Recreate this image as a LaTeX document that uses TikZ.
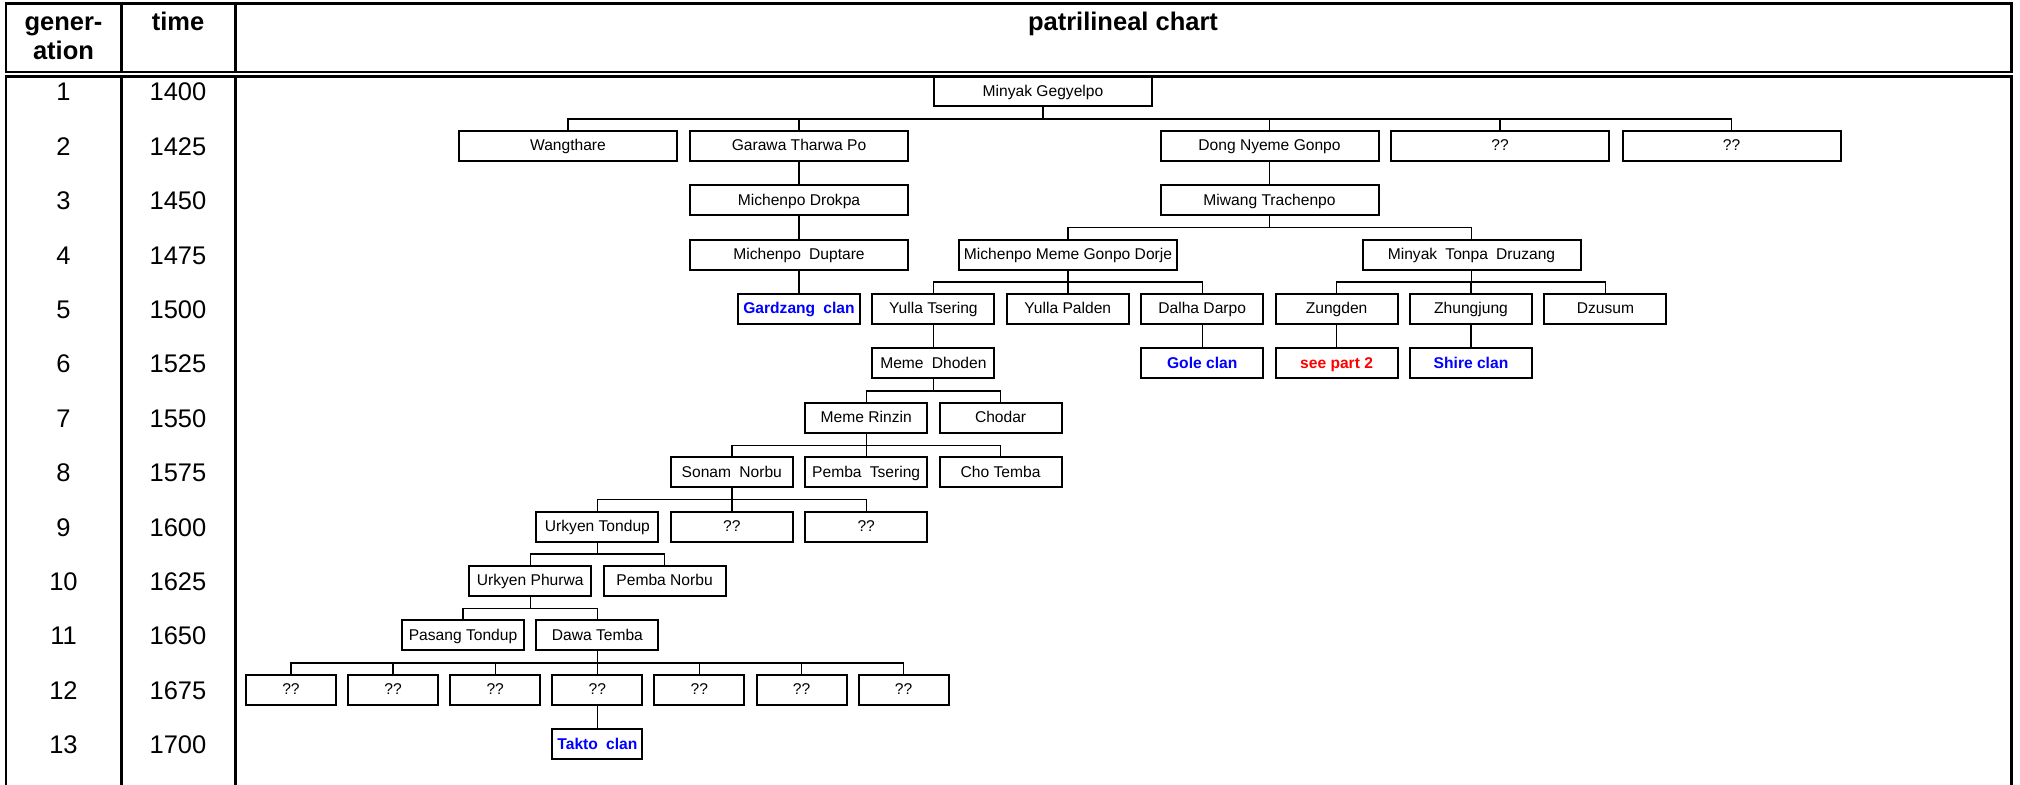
\documentclass[tikz,border=0pt]{standalone}
\usepackage{fontspec}
\setmainfont{Liberation Sans}
\definecolor{clanblue}{RGB}{0,0,255}
\definecolor{partred}{RGB}{255,0,0}
\begin{document}
\begin{tikzpicture}[x=0.5pt,y=-0.5pt,
  every node/.style={inner sep=0pt, outer sep=0pt},
  tbl/.style={line width=1.35pt},
  hdr/.style={font=\fontsize{12.75}{15}\selectfont\bfseries, anchor=base},
  cell/.style={font=\fontsize{12.75}{15}\selectfont, anchor=base},
  box/.style={draw, line width=1pt, minimum height=15pt, text height=6.2pt, text depth=1.4pt,
    font=\fontsize{7.8}{9}\selectfont, text=black},
  wide/.style={box, minimum width=109pt},
  mid/.style={box, minimum width=61pt},
  small/.style={box, minimum width=45pt},
  clan/.style={font=\fontsize{7.8}{9}\selectfont\bfseries, text=clanblue},
  conn/.style={line width=0.7pt},
]
\useasboundingbox (0,0) rectangle (2020,785);
\clip (0,0) rectangle (2020,785);

% table frame
\draw[tbl] (6,3.8) rectangle (2011.2,72);
\draw[tbl] (121.3,3.8) -- (121.3,72);
\draw[tbl] (235.3,3.8) -- (235.3,72);
\draw[tbl] (6,800) -- (6,76.5) -- (2011.2,76.5) -- (2011.2,800);
\draw[tbl] (121.3,76.5) -- (121.3,800);
\draw[tbl] (235.3,76.5) -- (235.3,800);

% header
\node[hdr] (hgen1) at (63.5,31) {gener-};
\node[hdr] (hgen2) at (63.5,60) {ation};
\node[hdr] (htime) at (178,31) {time};
\node[hdr] (hchart) at (1123,31) {patrilineal chart};

% rows
\foreach \k/\t in {1/1400,2/1425,3/1450,4/1475,5/1500,6/1525,7/1550,8/1575,9/1600,10/1625,11/1650,12/1675,13/1700}{
  \node[cell] (gen\k) at (63.5,{91.5+(\k-1)*54.4+9.5}) {\k};
  \node[cell] (time\k) at (178,{91.5+(\k-1)*54.4+9.5}) {\t};
}

% chart nodes
\node[wide] (minyak) at (1043,91.5) {Minyak Gegyelpo};
\node[wide] (wang) at (568,145.9) {Wangthare};
\node[wide] (garawa) at (799,145.9) {Garawa Tharwa Po};
\node[wide] (dong) at (1269.5,145.9) {Dong Nyeme Gonpo};
\node[wide] (qa) at (1500,145.9) {??};
\node[wide] (qb) at (1731.5,145.9) {??};
\node[wide] (drokpa) at (799,200.3) {Michenpo Drokpa};
\node[wide] (miwang) at (1269.5,200.3) {Miwang Trachenpo};
\node[wide] (duptare) at (799,254.7) {Michenpo\hspace{0.25em} Duptare};
\node[wide] (gonpo) at (1068,254.7) {Michenpo Meme Gonpo Dorje};
\node[wide] (tonpa) at (1471.5,254.7) {Minyak\hspace{0.25em} Tonpa\hspace{0.25em} Druzang};
\node[mid,clan] (gardzang) at (799,309.1) {Gardzang\hspace{0.25em} clan};
\node[mid] (ytsering) at (933.4,309.1) {Yulla Tsering};
\node[mid] (ypalden) at (1067.8,309.1) {Yulla Palden};
\node[mid] (dalha) at (1202.2,309.1) {Dalha Darpo};
\node[mid] (zungden) at (1336.6,309.1) {Zungden};
\node[mid] (zhung) at (1471,309.1) {Zhungjung};
\node[mid] (dzusum) at (1605.4,309.1) {Dzusum};
\node[mid] (dhoden) at (933.4,363.5) {Meme\hspace{0.25em} Dhoden};
\node[mid,clan] (gole) at (1202.2,363.5) {Gole clan};
\node[mid,clan,text=partred] (part2) at (1336.6,363.5) {see part 2};
\node[mid,clan] (shire) at (1471,363.5) {Shire clan};
\node[mid] (rinzin) at (866.2,417.9) {Meme Rinzin};
\node[mid] (chodar) at (1000.6,417.9) {Chodar};
\node[mid] (sonam) at (731.8,472.3) {Sonam\hspace{0.25em} Norbu};
\node[mid] (pemba) at (866.2,472.3) {Pemba\hspace{0.25em} Tsering};
\node[mid] (chotemba) at (1000.6,472.3) {Cho Temba};
\node[mid] (urktondup) at (597.4,526.7) {Urkyen Tondup};
\node[mid] (qna) at (731.8,526.7) {??};
\node[mid] (qnb) at (866.2,526.7) {??};
\node[mid] (phurwa) at (530.2,581.1) {Urkyen Phurwa};
\node[mid] (pnorbu) at (664.6,581.1) {Pemba Norbu};
\node[mid] (pasang) at (463,635.5) {Pasang Tondup};
\node[mid] (dawa) at (597.4,635.5) {Dawa Temba};
\foreach \i in {0,...,6}{
  \node[small] (qt\i) at ({291+\i*102.1},689.9) {??};
}
\node[small,clan] (takto) at (597.4,744.3) {Takto\hspace{0.25em} clan};

% connectors
\foreach \p/\cl in {minyak/{wang,garawa,dong,qa,qb}, garawa/{drokpa}, dong/{miwang},
  drokpa/{duptare}, miwang/{gonpo,tonpa}, duptare/{gardzang}, gonpo/{ytsering,ypalden,dalha},
  tonpa/{zungden,zhung,dzusum}, ytsering/{dhoden}, dalha/{gole}, zungden/{part2}, zhung/{shire},
  dhoden/{rinzin,chodar}, rinzin/{sonam,pemba,chotemba}, sonam/{urktondup,qna,qnb},
  urktondup/{phurwa,pnorbu}, phurwa/{pasang,dawa}, dawa/{qt0,qt1,qt2,qt3,qt4,qt5,qt6}, qt3/{takto}}{
  \foreach \c in \cl {
    \draw[conn] (\p.south) |- ([yshift=6pt]\c.north) -- (\c.north);
  }
}
\end{tikzpicture}
\end{document}
